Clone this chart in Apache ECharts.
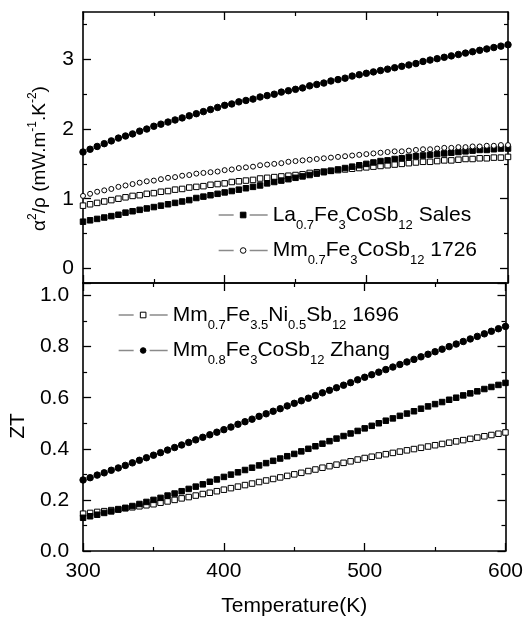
<!DOCTYPE html>
<html>
<head>
<meta charset="utf-8">
<script src="https://cdn.jsdelivr.net/npm/echarts@6/dist/echarts.min.js"></script>
<style>
html,body{margin:0;padding:0;background:#fff;}
#chart{width:526px;height:618px;}
</style>
</head>
<body>
<div id="chart"></div>
<script>
// ---------- data ----------
const temperatures = [300,305,310,315,320,325,330,335,340,345,350,
  355,360,365,370,375,380,385,390,395,400,
  405,410,415,420,425,430,435,440,445,450,
  455,460,465,470,475,480,485,490,495,500,
  505,510,515,520,525,530,535,540,545,550,
  555,560,565,570,575,580,585,590,595,600];

// power factor alpha^2/rho (mW m^-1 K^-2), top panel
const pfZhang = [1.67,1.71,1.75,1.79,1.83,1.87,1.90,1.93,1.97,2.00,2.04,
  2.07,2.10,2.13,2.16,2.19,2.22,2.25,2.28,2.31,2.34,
  2.36,2.39,2.41,2.43,2.46,2.48,2.50,2.53,2.55,2.57,
  2.59,2.62,2.64,2.66,2.69,2.71,2.73,2.76,2.78,2.80,
  2.82,2.84,2.86,2.88,2.90,2.92,2.94,2.97,2.99,3.01,
  3.03,3.05,3.07,3.09,3.11,3.13,3.15,3.17,3.19,3.21];
const pf1726 = [1.04,1.07,1.10,1.12,1.14,1.17,1.19,1.21,1.23,1.25,1.26,
  1.28,1.30,1.31,1.33,1.34,1.36,1.37,1.38,1.39,1.41,
  1.42,1.44,1.45,1.46,1.48,1.49,1.50,1.51,1.53,1.54,
  1.55,1.56,1.57,1.58,1.59,1.60,1.61,1.62,1.63,1.64,
  1.65,1.66,1.67,1.68,1.68,1.69,1.70,1.71,1.71,1.72,
  1.73,1.73,1.74,1.74,1.75,1.75,1.76,1.76,1.77,1.77];
const pf1696 = [0.90,0.92,0.94,0.96,0.98,1.00,1.02,1.04,1.05,1.07,1.08,
  1.10,1.11,1.13,1.14,1.16,1.17,1.18,1.20,1.21,1.22,
  1.24,1.25,1.26,1.27,1.29,1.30,1.31,1.32,1.33,1.34,
  1.35,1.37,1.38,1.39,1.40,1.41,1.42,1.43,1.44,1.45,
  1.46,1.47,1.48,1.49,1.50,1.51,1.52,1.53,1.53,1.54,
  1.55,1.55,1.56,1.57,1.57,1.58,1.58,1.59,1.59,1.60];
const pfSales = [0.67,0.69,0.71,0.73,0.75,0.77,0.80,0.82,0.84,0.86,0.88,
  0.90,0.92,0.94,0.96,0.98,1.01,1.03,1.05,1.07,1.09,
  1.11,1.13,1.15,1.17,1.19,1.22,1.24,1.26,1.28,1.30,
  1.32,1.34,1.36,1.38,1.40,1.42,1.44,1.46,1.48,1.50,
  1.52,1.54,1.55,1.57,1.58,1.60,1.61,1.62,1.63,1.64,
  1.65,1.66,1.67,1.68,1.69,1.70,1.70,1.71,1.72,1.72];

// figure of merit ZT, bottom panel
const ztZhang = [0.278,0.287,0.297,0.306,0.316,0.325,0.335,0.345,0.355,0.365,0.375,
  0.385,0.395,0.405,0.415,0.425,0.435,0.445,0.455,0.465,0.475,
  0.485,0.496,0.506,0.516,0.527,0.537,0.547,0.557,0.568,0.578,
  0.588,0.598,0.608,0.619,0.629,0.639,0.649,0.659,0.670,0.680,
  0.690,0.700,0.710,0.720,0.730,0.740,0.750,0.760,0.770,0.780,
  0.790,0.800,0.810,0.820,0.830,0.840,0.850,0.860,0.870,0.879];
const ztSales = [0.130,0.136,0.142,0.149,0.155,0.162,0.169,0.176,0.184,0.192,0.200,
  0.208,0.217,0.225,0.234,0.243,0.252,0.261,0.271,0.280,0.290,
  0.299,0.308,0.317,0.326,0.335,0.344,0.353,0.362,0.371,0.380,
  0.390,0.400,0.410,0.420,0.430,0.440,0.450,0.460,0.470,0.480,
  0.490,0.500,0.510,0.519,0.529,0.538,0.547,0.557,0.566,0.575,
  0.583,0.592,0.600,0.609,0.617,0.625,0.634,0.642,0.650,0.658];
const zt1696 = [0.146,0.149,0.153,0.156,0.160,0.164,0.167,0.171,0.175,0.179,0.183,
  0.189,0.194,0.200,0.206,0.211,0.217,0.223,0.228,0.234,0.240,
  0.246,0.252,0.258,0.264,0.270,0.276,0.282,0.288,0.294,0.300,
  0.306,0.313,0.319,0.326,0.332,0.338,0.345,0.351,0.358,0.364,
  0.369,0.374,0.379,0.384,0.389,0.394,0.399,0.404,0.409,0.414,
  0.419,0.424,0.429,0.434,0.439,0.444,0.449,0.454,0.459,0.464];

// tick values
const pfMajorTicks = [0, 1, 2, 3];
const pfMinorTicks = [0.5, 1.5, 2.5, 3.5];

// legend labels (rich text, s = subscript)
const seriesLabels = {
  'Sales': 'La{s|0.7}Fe{s|3}CoSb{s|12} Sales',
  '1726': 'Mm{s|0.7}Fe{s|3}CoSb{s|12} 1726',
  '1696': 'Mm{s|0.7}Fe{s|3.5}Ni{s|0.5}Sb{s|12} 1696',
  'Zhang': 'Mm{s|0.8}Fe{s|3}CoSb{s|12} Zhang'
};

// ---------- chart ----------
const FONT = 'Liberation Sans, Arial, sans-serif';
const pairs = (arr) => temperatures.map((t, i) => [t, arr[i]]);

const lineAxis = { show: true, onZero: false, lineStyle: { color: '#000', width: 1.6 } };

function xAx(grid, pos, showLabels) {
  return {
    type: 'value', gridIndex: grid, position: pos, min: 300, max: 600, interval: 100,
    axisLine: lineAxis,
    axisTick: { show: true, inside: true, length: 8, lineStyle: { color: '#000', width: 1.3 } },
    minorTick: { show: true, splitNumber: 2, length: 4, lineStyle: { color: '#000', width: 1.2 } },
    splitLine: { show: false },
    axisLabel: { show: showLabels, fontSize: 21, fontFamily: FONT, color: '#000', margin: 10 }
  };
}

const yTopCommon = { type: 'value', gridIndex: 0, min: -0.21, max: 3.68, splitLine: { show: false } };

function legendBox(names, left, top) {
  return {
    data: names, left: left, top: top, orient: 'vertical', padding: 0,
    itemWidth: 49, itemHeight: 7, itemGap: 4, selectedMode: false,
    formatter: (n) => seriesLabels[n],
    lineStyle: { color: '#8a8a8a', width: 1.3, opacity: 1, type: [15, 16, 18, 10] },
    itemStyle: { borderWidth: 1, borderColor: '#000' },
    textStyle: {
      fontSize: 21, fontFamily: FONT, color: '#000', lineHeight: 30,
      rich: { s: { fontSize: 13, fontFamily: FONT, color: '#000', height: 10, lineHeight: 10, verticalAlign: 'bottom' } }
    }
  };
}

function ser(name, values, xi, yi, symbol, fill, size) {
  return {
    name: name, type: 'line', xAxisIndex: xi, yAxisIndex: yi,
    data: pairs(values),
    symbol: symbol, symbolSize: size, showSymbol: true, showAllSymbol: true,
    lineStyle: { width: 0, opacity: 0 },
    itemStyle: { color: fill, borderColor: '#000', borderWidth: 1 },
    emphasis: { disabled: true },
    silent: true
  };
}

const option = {
  animation: false,
  backgroundColor: '#fff',
  textStyle: { fontFamily: FONT },
  grid: [
    { left: 83, top: 12, width: 425, height: 271 },
    { left: 83, top: 283, width: 425, height: 269 }
  ],
  xAxis: [
    xAx(0, 'bottom', false),
    xAx(0, 'top', false),
    Object.assign(xAx(1, 'bottom', true), {
      name: 'Temperature(K)', nameLocation: 'middle', nameGap: 45,
      nameTextStyle: { fontSize: 21, fontFamily: FONT, color: '#000' }
    }),
    xAx(1, 'top', false)
  ],
  yAxis: [
    Object.assign({}, yTopCommon, {
      position: 'left',
      axisLine: lineAxis,
      axisTick: { show: true, inside: true, length: 8, customValues: pfMajorTicks, lineStyle: { color: '#000', width: 1.3 } },
      axisLabel: { show: true, customValues: pfMajorTicks, fontSize: 21, fontFamily: FONT, color: '#000', margin: 9 },
      name: 'α{sup|2}/ρ (mW.m{sup|-1}.K{sup|-2})',
      nameLocation: 'middle', nameRotate: 90, nameGap: 31,
      nameTextStyle: {
        fontSize: 19, fontFamily: FONT, color: '#000', lineHeight: 24, padding: [0, 22, 0, 0],
        rich: { sup: { fontSize: 12, fontFamily: FONT, color: '#000', height: 10, lineHeight: 10, verticalAlign: 'top' } }
      }
    }),
    Object.assign({}, yTopCommon, {
      position: 'left',
      axisLine: { show: false },
      axisTick: { show: true, inside: true, length: 4, customValues: pfMinorTicks, lineStyle: { color: '#000', width: 1.2 } },
      axisLabel: { show: false }
    }),
    Object.assign({}, yTopCommon, {
      position: 'right',
      axisLine: lineAxis,
      axisTick: { show: true, inside: true, length: 8, customValues: pfMajorTicks, lineStyle: { color: '#000', width: 1.3 } },
      axisLabel: { show: false }
    }),
    Object.assign({}, yTopCommon, {
      position: 'right',
      axisLine: { show: false },
      axisTick: { show: true, inside: true, length: 4, customValues: pfMinorTicks, lineStyle: { color: '#000', width: 1.2 } },
      axisLabel: { show: false }
    }),
    {
      type: 'value', gridIndex: 1, position: 'left', min: 0, max: 1.049, interval: 0.2,
      axisLine: lineAxis,
      axisTick: { show: true, inside: true, length: 8, lineStyle: { color: '#000', width: 1.3 } },
      minorTick: { show: true, splitNumber: 2, length: 4, lineStyle: { color: '#000', width: 1.2 } },
      splitLine: { show: false },
      axisLabel: { show: true, showMaxLabel: false, fontSize: 21, fontFamily: FONT, color: '#000', margin: 14,
        formatter: (v) => v.toFixed(1) },
      name: 'ZT', nameLocation: 'middle', nameRotate: 90, nameGap: 52,
      nameTextStyle: { fontSize: 21, fontFamily: FONT, color: '#000', padding: [0, 18, 0, 0] }
    },
    {
      type: 'value', gridIndex: 1, position: 'right', min: 0, max: 1.049, interval: 0.2,
      axisLine: lineAxis,
      axisTick: { show: true, inside: true, length: 8, lineStyle: { color: '#000', width: 1.3 } },
      minorTick: { show: true, splitNumber: 2, length: 4, lineStyle: { color: '#000', width: 1.2 } },
      splitLine: { show: false },
      axisLabel: { show: false }
    }
  ],
  legend: [
    legendBox(['Sales', '1726'], 218, 200),
    legendBox(['1696', 'Zhang'], 118, 300)
  ],
  series: [
    ser('1696', pf1696, 0, 0, 'rect', '#fff', 5.5),
    ser('Sales', pfSales, 0, 0, 'rect', '#000', 5.5),
    ser('1726', pf1726, 0, 0, 'circle', '#fff', 5),
    ser('Zhang', pfZhang, 0, 0, 'circle', '#000', 6.5),
    ser('1696', zt1696, 2, 4, 'rect', '#fff', 5.5),
    ser('Sales', ztSales, 2, 4, 'rect', '#000', 5.5),
    ser('Zhang', ztZhang, 2, 4, 'circle', '#000', 6.5)
  ]
};

const chart = echarts.init(document.getElementById('chart'), null, { renderer: 'canvas' });
chart.setOption(option);
</script>
</body>
</html>
